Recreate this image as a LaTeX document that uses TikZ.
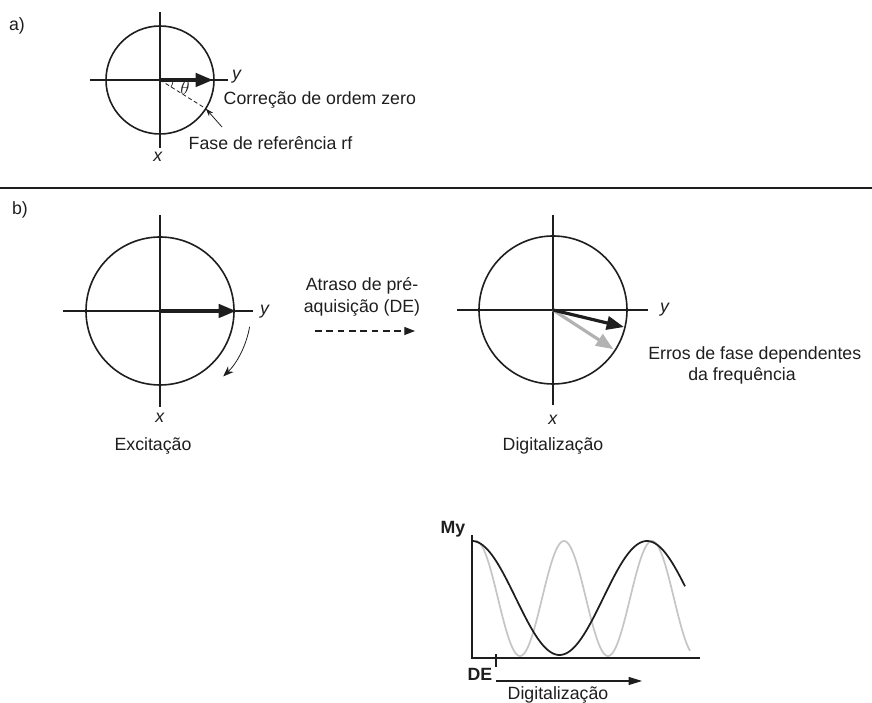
\documentclass[tikz,border=0pt]{standalone}
\usepackage{fontspec}
\setmainfont{Liberation Sans}
\usetikzlibrary{arrows.meta}
\definecolor{Ink}{HTML}{1E1E1E}
\definecolor{VecGray}{HTML}{B2B2B2}
\definecolor{WaveGray}{HTML}{C6C6C6}
\newcommand\lblfont{\fontsize{13.3}{16}\selectfont}

\begin{document}
\begin{tikzpicture}[x=0.75pt,y=0.75pt,>=Latex,font=\lblfont,every node/.style={text=Ink},
  axis/.style={Ink,line width=0.8pt},ring/.style={Ink,line width=1.2pt},
  vec/.style={line width=2.6pt,-{Triangle[length=13pt,width=10pt]}},
  thinvec/.style={Ink,line width=0.6pt,-{Stealth[length=8pt,width=6pt]}}]
\useasboundingbox (0,0) rectangle (872,703);
% a) zero-order correction
\node (tagA) at (17,677){a)};
\coordinate (oA) at (160,623);
\draw[axis] (90,623)--(228,623);\draw[axis] (160,691)--(160,555);
\draw[ring] (oA) circle[radius=54];
\draw[Ink,dashed,line width=0.6pt,dash pattern=on 3pt off 2pt] (oA)--++(-32:54) coordinate (rfA);
\draw[Ink,line width=0.5pt] (oA)++(-33:13) arc[start angle=-33,end angle=-8,radius=13];
\draw[vec,Ink] (oA)--(213,623);
\node (yA) at (237,626){\textit{y}};\node (xA) at (158,546){\textit{x}};
\node (thA) at (185,615){$\theta$};
\node[anchor=west] (zeroA) at (219,603){Correção de ordem zero};
\node[anchor=west] (refA) at (184,560){Fase de referência rf};
\coordinate (tailA) at (222,576);
\draw[thinvec,-{Stealth[length=6pt,width=4pt]}] (tailA)--(rfA);
% separator
\draw[Ink,line width=1pt] (0,515)--(872,515);
% b) pre-acquisition delay
\node (tagB) at (20,493){b)};
\coordinate (oB) at (160,392);
\draw[axis] (63,392)--(253,392);\draw[axis] (160,488)--(160,296);
\draw[ring] (oB) circle[radius=74];
\draw[vec,Ink] (oB)--(236,392);
\draw[thinvec] (oB)++(-10:91) arc[start angle=-10,end angle=-46,radius=91];
\node (yB) at (265,391){\textit{y}};\node (xB) at (160,285){\textit{x}};
\node (excB) at (153,257){Excitação};
\node[align=center] (delayB) at (362,406){Atraso de pré-\\aquisição (DE)};
\coordinate (dashL) at (315,372);\coordinate (dashR) at (415,372);
\draw[Ink,line width=0.8pt,dash pattern=on 5pt off 3.5pt,-{Triangle[length=8pt,width=6pt]}] (dashL)--(dashR);
\coordinate (oC) at (553,393);
\draw[axis] (457,393)--(648,393);\draw[axis] (553,488)--(553,298);
\draw[ring] (oC) circle[radius=74];
\draw[vec,VecGray,line width=2.4pt] (oC)--++(-33:72);
\draw[vec,Ink,line width=2.4pt] (oC)--++(-13.5:73);
\node (yC) at (665,393){\textit{y}};\node (xC) at (553,283){\textit{x}};
\node (digC) at (553,257){Digitalização};
\node[anchor=north west,align=left,inner sep=0pt] (errC) at (648,357){Erros de fase dependentes\\\hspace*{30pt}da frequência};
% My signal during digitisation
\coordinate (org) at (472,45);
\draw[axis] (472,168)--(org)--(700,45);
\draw[WaveGray,line width=1.3pt,smooth,domain=474:690,samples=160] plot (\x,{104.5+57.5*cos(4.0909*(\x-476))});
\draw[Ink,line width=1.3pt,smooth,domain=472:685,samples=120] plot (\x,{105+57*cos(2.05714*(\x-472))});
\node[font=\lblfont\bfseries] (my) at (453,174){My};
\draw[axis] (496,49)--(496,36);
\node[font=\lblfont\bfseries] (de) at (480,29){DE};
\coordinate (digL) at (496,22);\coordinate (digR) at (642,22);
\draw[Ink,line width=0.8pt,-{Triangle[length=10pt,width=6pt]}] (digL)--(digR);
\node (digP) at (558,8){Digitalização};
\end{tikzpicture}
\end{document}
